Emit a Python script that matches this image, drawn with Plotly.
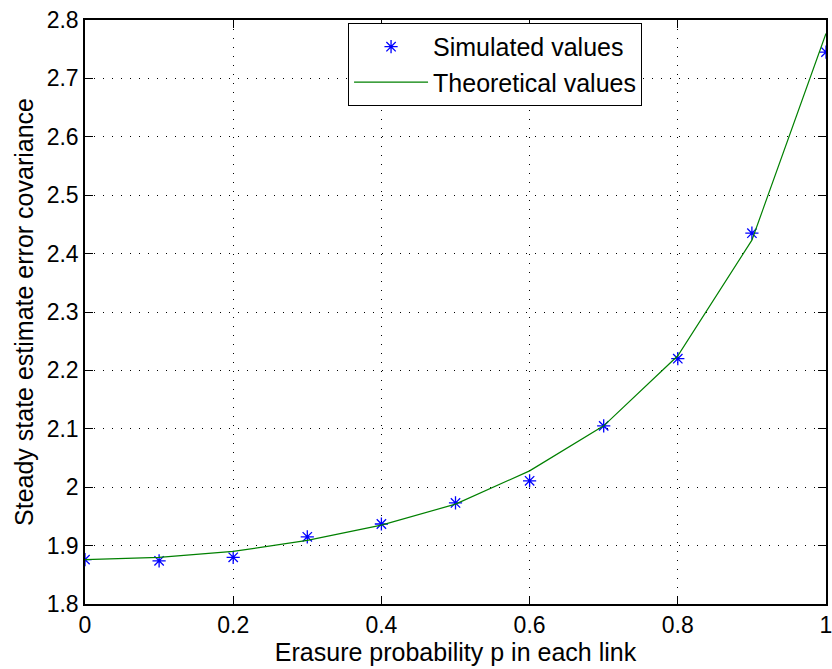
import plotly.graph_objects as go

p_sim = [0.0, 0.1, 0.2, 0.3, 0.4, 0.5, 0.6, 0.7, 0.8, 0.9, 1.0]
cov_sim = [1.876, 1.874, 1.880, 1.915, 1.937, 1.973, 2.011, 2.105, 2.220, 2.435, 2.745]

p_theory = [0.0, 0.1, 0.2, 0.3, 0.4, 0.5, 0.6, 0.7, 0.8, 0.9, 1.0]
cov_theory = [1.876, 1.880, 1.890, 1.909, 1.935, 1.971, 2.028, 2.105, 2.225, 2.423, 2.777]

x_ticks = [0, 0.2, 0.4, 0.6, 0.8, 1]
x_ticklabels = ["0", "0.2", "0.4", "0.6", "0.8", "1"]
y_ticks = [1.8, 1.9, 2.0, 2.1, 2.2, 2.3, 2.4, 2.5, 2.6, 2.7, 2.8]
y_ticklabels = ["1.8", "1.9", "2", "2.1", "2.2", "2.3", "2.4", "2.5", "2.6", "2.7", "2.8"]

FONT = "Liberation Sans, Arial, Helvetica, sans-serif"

fig = go.Figure()
fig.add_trace(go.Scatter(
    x=p_sim, y=cov_sim, mode="markers", name="Simulated values",
    marker=dict(symbol="asterisk-open", size=11, color="rgb(0,0,255)",
                line=dict(color="rgb(0,0,255)", width=1.3)),
))
fig.add_trace(go.Scatter(
    x=p_theory, y=cov_theory, mode="lines", name="Theoretical values",
    line=dict(color="rgb(0,128,0)", width=1.2),
))

axis_common = dict(
    showline=True, linecolor="black", linewidth=1.5, mirror="ticks",
    ticks="inside", ticklen=8, tickcolor="black", tickwidth=1,
    showgrid=True, gridcolor="black", gridwidth=1, griddash="1px,8px",
    zeroline=False, automargin=False, ticklabeloverflow="allow",
    tickfont=dict(size=23, color="black", family=FONT),
)

fig.update_layout(
    width=832, height=669,
    margin=dict(l=85, r=6, t=20, b=65),
    paper_bgcolor="white", plot_bgcolor="white",
    font=dict(family=FONT, color="black", size=25),
    xaxis=dict(range=[0, 1], tickvals=x_ticks, ticktext=x_ticklabels,
               title=dict(text="Erasure probability p in each link",
                          font=dict(size=25), standoff=0),
               **axis_common),
    yaxis=dict(range=[1.8, 2.8], tickvals=y_ticks, ticktext=y_ticklabels,
               title=dict(text="Steady state estimate error covariance",
                          font=dict(size=25), standoff=6),
               **axis_common),
    legend=dict(x=0.355, y=0.995, xanchor="left", yanchor="top",
                bgcolor="white", bordercolor="black", borderwidth=1,
                font=dict(size=25, family=FONT), itemwidth=74,
                tracegroupgap=0),
    showlegend=True,
)

fig.write_html("out.html")
